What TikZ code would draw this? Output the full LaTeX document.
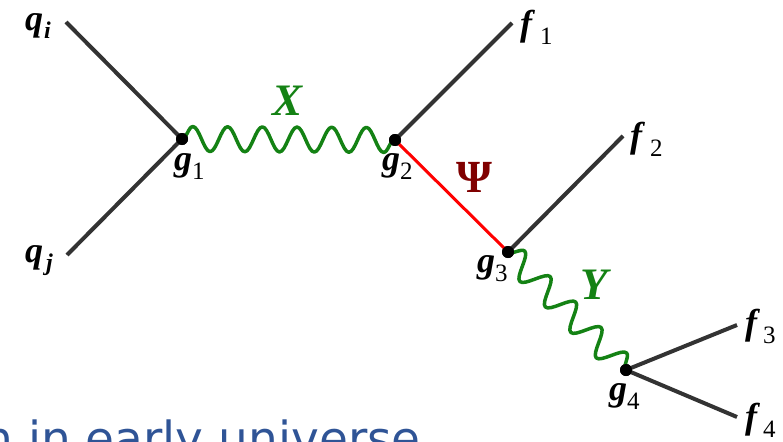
\documentclass[tikz,border=0pt]{standalone}
\usepackage{fontspec}
\setmainfont{Liberation Serif}
\newfontfamily\blufont{DejaVu Sans}
\usetikzlibrary{decorations.pathmorphing}
\definecolor{legcol}{RGB}{51,51,51}
\definecolor{bosoncol}{RGB}{20,130,20}
\definecolor{psicol}{RGB}{128,0,0}
\definecolor{bluetext}{RGB}{47,84,150}
\newcommand\subit[1]{\raisebox{-8pt}{\fontsize{24}{26}\selectfont\bfseries\itshape #1}}
\newcommand\subrm[1]{\raisebox{-9pt}{\fontsize{25}{27}\selectfont\normalfont #1}}
\begin{document}
\begin{tikzpicture}[x=1pt,y=-1pt,
  leg/.style={draw=legcol, line width=4pt},
  vtx/.style={circle, fill=black, inner sep=0pt, minimum size=12pt},
  boson/.style={draw=bosoncol, line width=3.5pt, line join=round, decorate,
    decoration={snake, amplitude=12.5pt}},
  fermion/.style={draw=red, line width=3pt},
  lbl/.style={anchor=base west, inner sep=0pt, font=\fontsize{36}{40}\selectfont\bfseries\itshape},
  biglbl/.style={anchor=base west, inner sep=0pt, font=\fontsize{45}{50}\selectfont\bfseries\itshape},
]
\useasboundingbox (0,0) rectangle (783,441);
\clip (0,0) rectangle (783,441);

% vertices
\node[vtx] (g1) at (182,139) {};
\node[vtx] (g2) at (395,140) {};
\node[vtx] (g3) at (508,252) {};
\node[vtx] (g4) at (626,370) {};

% free ends
\coordinate (qi) at (66,22);
\coordinate (qj) at (67,255);
\coordinate (f1) at (512,23);
\coordinate (f2) at (623,136);
\coordinate (f3) at (737,325);
\coordinate (f4) at (737,417);

% legs
\draw[leg] (qi) -- (g1.center);
\draw[leg] (qj) -- (g1.center);
\draw[leg] (g2.center) -- (f1);
\draw[leg] (g3.center) -- (f2);
\draw[leg] (g4.center) -- (f3);
\draw[leg] (g4.center) -- (f4);

% propagators
\draw[boson, decoration={segment length=34.7pt}] (g1.center) -- (g2.center);
\draw[fermion] (g2.center) -- (g3.center);
\draw[boson, decoration={segment length=36pt}] (g3.center) -- (g4.center);

% redraw vertices on top
\fill (g1) circle (6pt);
\fill (g2) circle (6pt);
\fill (g3) circle (6pt);
\fill (g4) circle (6pt);

% labels
\node[lbl] (lqi) at (25,31) {q\hspace{1pt}\subit{i}};
\node[lbl] (lqj) at (25,262) {q\hspace{3pt}\subit{j}};
\node[lbl] (lg1) at (174,170) {g\subrm{1}};
\node[lbl] (lg2) at (382,170) {g\subrm{2}};
\node[lbl] (lg3) at (477,272) {g\subrm{3}};
\node[lbl] (lg4) at (609,400) {g\subrm{4}};
\node[lbl] (lf1) at (520,36) {f\hspace{8pt}\subrm{1}};
\node[lbl] (lf2) at (630,147) {f\hspace{8pt}\subrm{2}};
\node[lbl] (lf3) at (745,334) {f\hspace{6pt}\subrm{3}};
\node[lbl] (lf4) at (745,428) {f\hspace{6pt}\subrm{4}};
\node[biglbl, text=bosoncol] (lX) at (272,115) {X};
\node[biglbl, text=bosoncol] (lY) at (580,299) {Y};
\node[anchor=base west, inner sep=0pt, text=psicol, font=\fontsize{46}{50}\selectfont\bfseries] (lpsi) at (456,192) {Ψ};

% bottom caption fragment
\node[anchor=base east, inner sep=0pt, text=bluetext, font=\blufont\fontsize{47}{52}\selectfont] (cap) at (421,455) {n in early universe};
\end{tikzpicture}
\end{document}
